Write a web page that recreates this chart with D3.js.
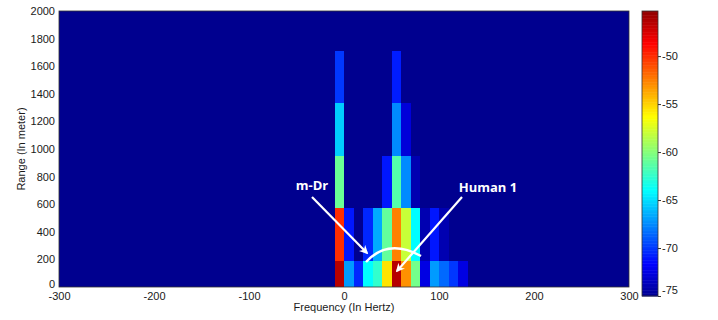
<!DOCTYPE html>
<html>
<head>
<meta charset="utf-8">
<script src="https://cdn.jsdelivr.net/npm/d3@7"></script>
<style>
  body { margin: 0; background: #fff; }
  svg text { font-family: "Liberation Sans", Arial, sans-serif; }
</style>
</head>
<body>
<svg id="chart" width="718" height="320"></svg>
<script>
// frequency bins (left edge, Hz), each 10 Hz wide
const freqBins = [-10, 0, 10, 20, 30, 40, 50, 60, 70, 80, 90, 100, 110, 120]
const binWidth = 10
// range bins (centre, m), each 380 m tall
const rangeBins = [0, 380, 760, 1140, 1520]
const rangeHalf = 190
// power (dB) per range bin, one value per frequency bin
const power0 = [-46.5, -67, -70.5, -64, -62.5, -55.5, -46.5, -53, -60.5, -72.5, -67, -68.5, -70, -72.5]
const power380 = [-50, -71, -75, -70.5, -66.5, -61, -52.5, -58, -64, -74, -71, -74, -75, -75]
const power760 = [-60.8, -75, -75, -75, -75, -71, -61.5, -67.5, -74, -75, -75, -75, -75, -75]
const power1140 = [-65.5, -75, -75, -75, -75, -75, -67.5, -72.8, -75, -75, -75, -75, -75, -75]
const power1520 = [-70, -75, -75, -75, -75, -75, -70.8, -75, -75, -75, -75, -75, -75, -75]
const powerRows = [power0, power380, power760, power1140, power1520]

const xTicks = [-300, -200, -100, 0, 100, 200, 300]
const yTicks = [0, 200, 400, 600, 800, 1000, 1200, 1400, 1600, 1800, 2000]
const cTicks = [-50, -55, -60, -65, -70, -75]
const cDomain = [-75, -45.3]

// MATLAB jet(64), ends at 0.5625 dark blue / dark red
function jet(t) {
  t = 1 / 64 + t * 62 / 64
  const c = v => Math.max(0, Math.min(1, v))
  const r = c(1.5 - Math.abs(4 * t - 3))
  const g = c(1.5 - Math.abs(4 * t - 2))
  const b = c(1.5 - Math.abs(4 * t - 1))
  return d3.rgb(r * 255, g * 255, b * 255).formatHex()
}

// plain integers with an ascii hyphen, like matlab
const fmt = d => String(d)

const svg = d3.select('#chart')
const pLeft = 59, pRight = 629, pTop = 11, pBottom = 287

const x = d3.scaleLinear().domain([-300, 300]).range([pLeft, pRight])
const y = d3.scaleLinear().domain([0, 2000]).range([pBottom, pTop])
const cNorm = d3.scaleLinear().domain(cDomain).range([0, 1]).clamp(true)
const color = v => jet(cNorm(v))

// background (lowest level)
svg.append('rect')
  .attr('x', pLeft).attr('y', pTop)
  .attr('width', pRight - pLeft).attr('height', pBottom - pTop)
  .attr('fill', color(-75))

const cells = []
powerRows.forEach((row, ri) => {
  row.forEach((v, fi) => {
    cells.push({ r: rangeBins[ri], f: freqBins[fi], v: v })
  })
})

svg.append('g')
  .selectAll('rect')
  .data(cells)
  .enter().append('rect')
  .attr('x', d => x(d.f))
  .attr('width', d => x(d.f + binWidth) - x(d.f))
  .attr('y', d => y(Math.min(2000, d.r + rangeHalf)))
  .attr('height', d => y(Math.max(0, d.r - rangeHalf)) - y(Math.min(2000, d.r + rangeHalf)))
  .attr('fill', d => color(d.v))
  .attr('shape-rendering', 'crispEdges')

// axes
const xAxis = svg.append('g')
  .attr('transform', 'translate(0,' + pBottom + ')')
  .call(d3.axisBottom(x).tickValues(xTicks).tickFormat(fmt).tickSize(0).tickPadding(5))
const yAxis = svg.append('g')
  .attr('transform', 'translate(' + pLeft + ',0)')
  .call(d3.axisLeft(y).tickValues(yTicks).tickFormat(fmt).tickSize(0).tickPadding(4))
;[xAxis, yAxis].forEach(g => {
  g.select('.domain').remove()
  g.selectAll('text').attr('font-size', 11).attr('fill', '#1a1a1a')
    .style('font-family', '"Liberation Sans", Arial, sans-serif')
})
// the "0" of the range axis sits just above the x labels
yAxis.selectAll('.tick').filter(d => d === 0).select('text').attr('dy', '0.05em')

svg.append('rect')
  .attr('x', pLeft).attr('y', pTop)
  .attr('width', pRight - pLeft).attr('height', pBottom - pTop)
  .attr('fill', 'none').attr('stroke', '#333').attr('stroke-width', 0.8)

svg.append('text')
  .attr('x', x(0)).attr('y', 311)
  .attr('text-anchor', 'middle').attr('font-size', 11).attr('fill', '#1a1a1a')
  .text('Frequency (In Hertz)')

svg.append('text')
  .attr('transform', 'translate(25,' + (pTop + pBottom) / 2 + ') rotate(-90)')
  .attr('text-anchor', 'middle').attr('font-size', 11).attr('fill', '#1a1a1a')
  .text('Range (In meter)')

// colorbar
const cbX = 642, cbW = 16, cbTop = 11, cbBottom = 296
const cy = d3.scaleLinear().domain(cDomain).range([cbBottom, cbTop])
const steps = d3.range(0, 200)
svg.append('g')
  .selectAll('rect')
  .data(steps)
  .enter().append('rect')
  .attr('x', cbX).attr('width', cbW)
  .attr('y', i => cbBottom - (i + 1) * (cbBottom - cbTop) / steps.length)
  .attr('height', (cbBottom - cbTop) / steps.length + 0.5)
  .attr('fill', i => jet((i + 0.5) / steps.length))
svg.append('rect')
  .attr('x', cbX).attr('y', cbTop)
  .attr('width', cbW).attr('height', cbBottom - cbTop)
  .attr('fill', 'none').attr('stroke', '#333').attr('stroke-width', 0.8)
const cAxis = svg.append('g')
  .attr('transform', 'translate(' + (cbX + cbW) + ',0)')
  .call(d3.axisRight(cy).tickValues(cTicks).tickFormat(fmt).tickSize(3).tickPadding(1))
cAxis.select('.domain').remove()
cAxis.selectAll('line').attr('stroke', '#333')
cAxis.selectAll('text').attr('font-size', 11).attr('fill', '#1a1a1a')
  .style('font-family', '"Liberation Sans", Arial, sans-serif')
cAxis.selectAll('.tick').filter(d => d === -75).select('text').attr('dy', '-0.2em')

// annotations
const defs = svg.append('defs')
defs.append('marker')
  .attr('id', 'arrow')
  .attr('viewBox', '0 0 10 10')
  .attr('refX', 8).attr('refY', 5)
  .attr('markerWidth', 4).attr('markerHeight', 4)
  .attr('orient', 'auto')
  .append('path')
  .attr('d', 'M0,0 L10,5 L0,10 L3,5 Z')
  .attr('fill', '#fff')

const ann = svg.append('g').attr('fill', 'none').attr('stroke', '#fff').attr('stroke-width', 2.2)
ann.append('line')
  .attr('x1', 312).attr('y1', 197).attr('x2', 367).attr('y2', 253)
  .attr('marker-end', 'url(#arrow)')
ann.append('line')
  .attr('x1', 462).attr('y1', 197).attr('x2', 397).attr('y2', 271)
  .attr('marker-end', 'url(#arrow)')
ann.append('path')
  .attr('d', 'M366,262 Q388,238 421,256')
  .attr('stroke-width', 2.5)

svg.append('text')
  .attr('x', 312).attr('y', 190)
  .attr('text-anchor', 'middle').attr('font-size', 13).attr('font-weight', 'bold')
  .attr('fill', '#fff')
  .style('font-family', '"Open Sans", "DejaVu Sans", sans-serif')
  .text('m-Dr')
svg.append('text')
  .attr('x', 488).attr('y', 192)
  .attr('text-anchor', 'middle').attr('font-size', 13).attr('font-weight', 'bold')
  .attr('fill', '#fff')
  .style('font-family', '"Open Sans", "DejaVu Sans", sans-serif')
  .text('Human 1')
</script>
</body>
</html>
